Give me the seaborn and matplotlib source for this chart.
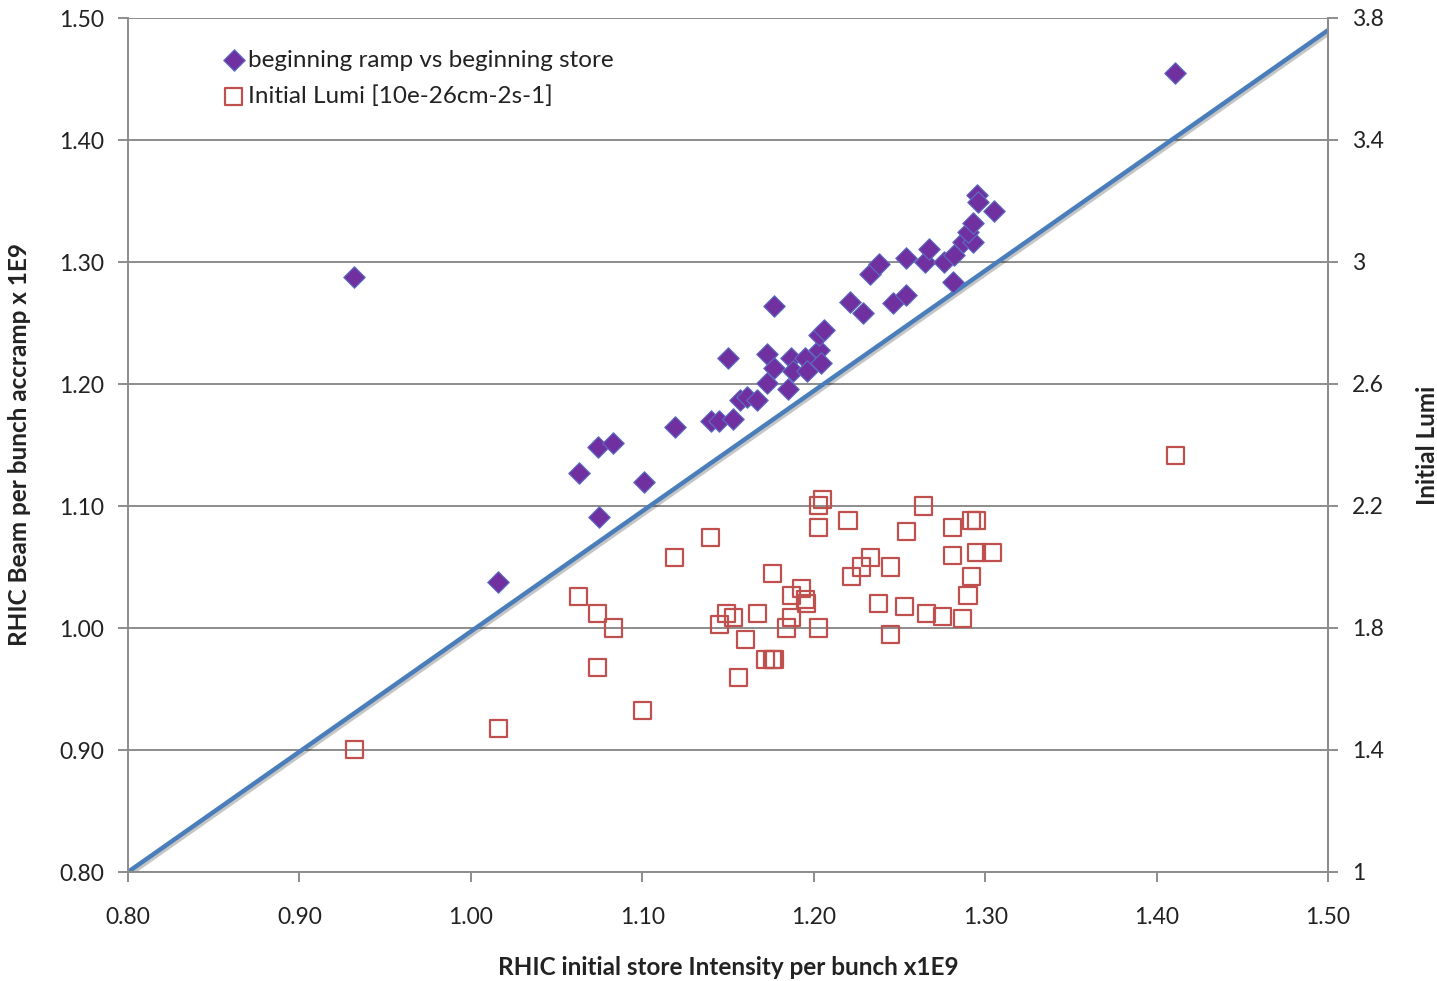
import matplotlib
matplotlib.use("Agg")
import matplotlib.pyplot as plt
import matplotlib.patheffects as pe
import seaborn as sns
import pandas as pd
import numpy as np

# ---- data ----
ramp_x = [0.932, 1.016, 1.063, 1.074, 1.083, 1.075, 1.101, 1.119, 1.140, 1.145,
          1.153, 1.157, 1.161, 1.167, 1.150, 1.173, 1.173, 1.177, 1.177, 1.185,
          1.187, 1.188, 1.195, 1.196, 1.203, 1.204, 1.203, 1.206, 1.221, 1.229,
          1.233, 1.238, 1.246, 1.254, 1.254, 1.265, 1.267, 1.276, 1.282, 1.281,
          1.287, 1.293, 1.290, 1.293, 1.295, 1.296, 1.305, 1.411]
ramp_y = [1.288, 1.038, 1.127, 1.148, 1.152, 1.091, 1.120, 1.165, 1.170, 1.170,
          1.171, 1.187, 1.189, 1.187, 1.221, 1.201, 1.225, 1.213, 1.264, 1.196,
          1.221, 1.211, 1.221, 1.211, 1.228, 1.217, 1.240, 1.244, 1.267, 1.258,
          1.290, 1.298, 1.266, 1.273, 1.303, 1.300, 1.311, 1.300, 1.306, 1.284,
          1.316, 1.316, 1.325, 1.332, 1.355, 1.349, 1.342, 1.455]

lumi_x = [0.932, 1.016, 1.063, 1.074, 1.083, 1.074, 1.100, 1.119, 1.140, 1.149,
          1.153, 1.145, 1.167, 1.160, 1.156, 1.172, 1.176, 1.177, 1.176, 1.187,
          1.193, 1.195, 1.196, 1.187, 1.184, 1.203, 1.203, 1.203, 1.205, 1.220,
          1.222, 1.228, 1.233, 1.238, 1.245, 1.245, 1.253, 1.254, 1.264, 1.266,
          1.275, 1.281, 1.281, 1.287, 1.290, 1.292, 1.292, 1.295, 1.295, 1.304,
          1.411]
lumi_y = [1.403, 1.472, 1.902, 1.849, 1.800, 1.669, 1.531, 2.030, 2.098, 1.849,
          1.833, 1.810, 1.849, 1.761, 1.639, 1.698, 1.698, 1.698, 1.980, 1.908,
          1.931, 1.892, 1.879, 1.833, 1.800, 1.800, 2.131, 2.203, 2.220, 2.151,
          1.970, 2.000, 2.030, 1.879, 2.000, 1.780, 1.869, 2.118, 2.200, 1.849,
          1.839, 2.131, 2.039, 1.830, 1.908, 1.970, 2.151, 2.151, 2.049, 2.049,
          2.367]

line_x = [0.80, 1.50]
line_y = [0.80, 1.49]

x_ticks = [0.80, 0.90, 1.00, 1.10, 1.20, 1.30, 1.40, 1.50]
y_ticks = [0.80, 0.90, 1.00, 1.10, 1.20, 1.30, 1.40, 1.50]
y2_ticks = [1.0, 1.4, 1.8, 2.2, 2.6, 3.0, 3.4, 3.8]
y2_labels = ["1", "1.4", "1.8", "2.2", "2.6", "3", "3.4", "3.8"]

ramp_label = "beginning ramp vs beginning store"
lumi_label = "Initial Lumi [10e-26cm-2s-1]"
x_title = "RHIC initial store Intensity per bunch x1E9"
y_title = "RHIC Beam per bunch accramp x 1E9"
y2_title = "Initial Lumi"

# ---- style ----
sns.set_theme(style="white")
plt.rcParams['font.family'] = ['Lato', 'DejaVu Sans']

grid_col = "#8c8c8c"
txt_col = "#222222"
fig = plt.figure(figsize=(14.37, 9.81), dpi=100)
ax = fig.add_axes([128/1437, 1 - 872/981, 1200/1437, 854/981])
ax2 = ax.twinx()

df_ramp = pd.DataFrame({"x": ramp_x, "y": ramp_y})
df_lumi = pd.DataFrame({"x": lumi_x, "y": lumi_y})
df_line = pd.DataFrame({"x": line_x, "y": line_y})

sns.lineplot(data=df_line, x="x", y="y", ax=ax, color="#4a7ebb", linewidth=3.2,
             zorder=2, legend=False,
             path_effects=[pe.SimpleLineShadow(offset=(1.5, -1.5), alpha=0.25),
                           pe.Normal()])
sns.scatterplot(data=df_ramp, x="x", y="y", ax=ax, marker="D", s=120,
                color="#7030a0", edgecolor="#5b6fc4", linewidth=0.8,
                zorder=4, label=ramp_label)
sns.scatterplot(data=df_lumi, x="x", y="y", ax=ax2, marker="s", s=150,
                facecolor="none", edgecolor="#c0504d", linewidth=1.6,
                zorder=4, label=lumi_label)

ax.set_xlim(0.80, 1.50)
ax.set_ylim(0.80, 1.50)
ax2.set_ylim(1.0, 3.8)
ax.set_xticks(x_ticks)
ax.set_xticklabels([f"{v:.2f}" for v in x_ticks])
ax.set_yticks(y_ticks)
ax.set_yticklabels([f"{v:.2f}" for v in y_ticks])
ax2.set_yticks(y2_ticks)
ax2.set_yticklabels(y2_labels)

for v in y_ticks:
    ax.axhline(v, color=grid_col, linewidth=1.4, zorder=0)

for a in (ax, ax2):
    a.spines["top"].set_visible(False)
    for s in ("left", "right", "bottom"):
        a.spines[s].set_color(grid_col)
        a.spines[s].set_linewidth(1.4)
ax2.spines["left"].set_visible(False)
ax2.spines["bottom"].set_visible(False)

ax.tick_params(axis="both", which="major", direction="out", length=7, width=1.4,
               color=grid_col, labelsize=16.5, labelcolor=txt_col, pad=10)
ax.tick_params(axis="x", pad=18)
ax.tick_params(left=True, bottom=True)
ax2.tick_params(axis="y", direction="out", length=7, width=1.4, color=grid_col,
                labelsize=16.5, labelcolor=txt_col, pad=10, right=True)

ax.set_xlabel(x_title, fontsize=17.5, fontweight="bold", color=txt_col)
ax.xaxis.set_label_coords(0.5, -(956 - 872) / 854)
ax.set_ylabel(y_title, fontsize=17.5, fontweight="bold", color=txt_col)
ax.yaxis.set_label_coords(-(128 - 31) / 1200, (872 - 445) / 854)
ax2.set_ylabel(y2_title, fontsize=17.5, fontweight="bold", color=txt_col)
ax2.yaxis.set_label_coords((1416 - 128) / 1200, (872 - 445) / 854)

# combined legend
h1, l1 = ax.get_legend_handles_labels()
h2, l2 = ax2.get_legend_handles_labels()
if ax2.get_legend():
    ax2.get_legend().remove()
leg = ax.legend(h1 + h2, l1 + l2, loc="upper left",
                bbox_to_anchor=((212 - 128) / 1200, (872 - 40) / 854),
                frameon=False, fontsize=17.5, handletextpad=0.1,
                handlelength=1.0, labelspacing=0.6, borderaxespad=0)
for t in leg.get_texts():
    t.set_color(txt_col)
ax2.set_zorder(ax.get_zorder() + 1)
ax2.patch.set_visible(False)
ax.patch.set_facecolor("white")

fig.savefig("out.png", dpi=100, facecolor="white")
